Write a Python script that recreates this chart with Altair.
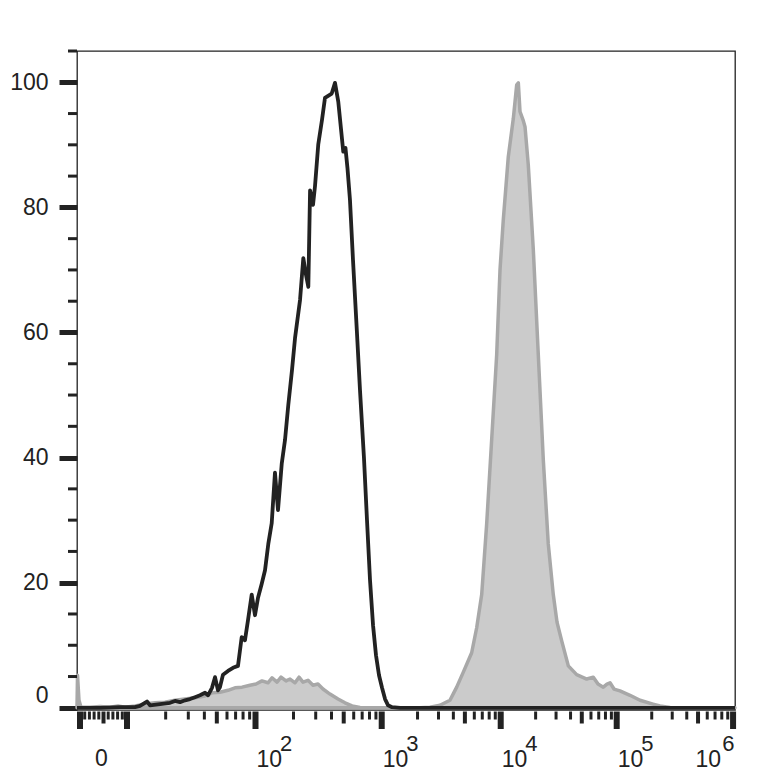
import math
import altair as alt
import pandas as pd

# ---------------- data (x in display channels 0-1024, y in % of max) ----------------
BLACK_CH = [0, 35.8, 66.9, 90.3, 98.0, 108.9, 113.6, 129.2, 144.8, 152.5, 160.3, 168.1,
            175.9, 183.6, 191.4, 199.2, 203.9, 210.1, 214.8, 219.4, 222.5, 227.2, 235.0,
            242.8, 250.5, 256.3, 261.4, 266.1, 271.9, 277.0, 281.7, 287.4, 292.6, 297.7,
            303.0, 308.1, 312.8, 318.6, 323.7, 328.8, 334.6, 339.3, 347.1, 352.2, 356.4,
            360.0, 362.7, 367.3, 370.4, 375.5, 381.3, 385.9, 396.4, 401.5, 406.6, 414.4,
            417.8, 420.9, 424.8, 429.5, 435.7, 440.4, 446.6, 451.3, 456.0, 460.7, 465.3,
            470.0, 474.7, 479.4, 484.1, 490.3, 502.8, 1024]
BLACK_PCT = [0, 0, 0.1, 0.1, 0.3, 1.0, 0.4, 0.6, 0.8, 1.1, 0.9, 1.2,
             1.4, 1.7, 2.0, 2.4, 2.0, 3.2, 4.9, 2.8, 3.3, 5.3, 5.9,
             6.4, 6.7, 11.3, 10.8, 14.0, 18.1, 14.8, 17.6, 19.8, 22.0, 26.2,
             29.5, 37.6, 31.6, 39.0, 42.8, 48.4, 54.0, 59.1, 65.2, 71.9, 69.2,
             67.3, 82.7, 80.4, 83.4, 90.1, 94.0, 97.5, 98.2, 99.9, 96.9, 88.9,
             89.5, 86.3, 81.2, 71.6, 59.9, 50.8, 39.9, 30.0, 20.4, 13.2, 8.4,
             5.2, 3.2, 1.4, 0.4, 0.1, 0, 0]

GREY_CH = [0, 0.8, 3.1, 6.2, 20.2, 35.8, 51.4, 63.8, 74.7, 90.3, 105.8, 121.4, 136.9,
           152.5, 168.1, 183.6, 199.2, 210.1, 222.5, 235.0, 245.9, 256.8, 269.2, 278.6,
           287.9, 297.2, 303.5, 311.3, 317.5, 325.3, 331.5, 339.3, 345.5, 351.7, 359.5,
           367.3, 375.0, 382.8, 393.7, 406.2, 417.1, 428.0, 440.4, 471.5, 533.8, 549.3,
           564.9, 580.4, 590.9, 601.2, 614.2, 622.0, 629.8, 637.6, 645.4, 653.1, 658.3,
           663.4, 671.2, 679.0, 684.3, 686.8, 689.4, 694.1, 697.2, 702.3, 710.1, 717.9,
           725.7, 733.4, 741.2, 747.0, 754.3, 764.6, 777.6, 793.2, 803.5, 810.8, 819.0,
           824.8, 829.5, 835.7, 845.0, 860.6, 876.2, 896.4, 907.3, 922.9, 938.5, 1024]
GREY_PCT = [0, 5.2, 1.2, 0.1, 0.1, 0.2, 0.1, 0.3, 0.1, 0.3, 0.6, 0.8, 0.9,
            1.2, 1.4, 1.6, 1.9, 2.4, 2.5, 2.8, 3.2, 3.3, 3.6, 3.8,
            4.3, 4.0, 4.8, 4.1, 4.9, 4.3, 4.6, 4.0, 4.9, 4.1, 4.4,
            3.6, 3.8, 3.0, 2.2, 1.4, 0.8, 0.3, 0.05, 0, 0, 0.1,
            0.4, 1.2, 3.3, 5.7, 8.8, 12.8, 18.1, 29.5, 43.0, 56.4, 70.0,
            78.0, 88.1, 94.2, 99.6, 99.9, 95.3, 94.0, 92.9, 86.8, 73.3, 56.4,
            39.6, 26.2, 18.1, 13.7, 10.7, 6.7, 5.3, 4.6, 4.9, 3.8, 3.3,
            3.8, 4.0, 3.0, 2.7, 2.0, 1.2, 0.6, 0.3, 0.05, 0, 0]

# axis calibration (display channel of 0 and of the decades 10^1 .. 10^6)
ZERO_CH = 4.7
DECADE_CH = [77.8, 277.8, 474.2, 659.4, 839.9, 1021.0]

X_MAJOR = [0, 10, 100, 1e3, 1e4, 1e5, 1e6]
X_MEDIUM = [5, 50, 500, 5e3, 5e4, 5e5]
X_MINOR = [1, 2, 3, 4, 6, 7, 8, 9] + [m * 10 ** k for k in range(1, 6) for m in (2, 3, 4, 6, 7, 8, 9)]
X_EXPONENTS = ["2", "3", "4", "5", "6"]

Y_LABELS = [0, 20, 40, 60, 80, 100]
Y_MINOR = [5, 10, 15, 25, 30, 35, 45, 50, 55, 65, 70, 75, 85, 90, 95, 105]


def to_ch(v):
    if v <= 10:
        return ZERO_CH + v * (DECADE_CH[0] - ZERO_CH) / 10.0
    e = math.log10(v)
    i = min(int(math.floor(e)), 5)
    frac = e - i
    return DECADE_CH[i - 1] + frac * (DECADE_CH[i] - DECADE_CH[i - 1])


W, H = 658, 659
INK = "#222222"
FONT = "Liberation Sans"

xs = alt.Scale(domain=[0, 1024], nice=False, zero=False)
ys = alt.Scale(domain=[-0.35, 105], nice=False, zero=False)
YAX = alt.Axis(values=Y_LABELS, tickSize=18, tickWidth=5, tickColor=INK, domain=False,
               grid=False, labelFont=FONT, labelFontSize=23, labelColor=INK,
               labelPadding=11, labelFlush=5, title=None)

grey_df = pd.DataFrame({"ch": GREY_CH, "pct": GREY_PCT})
black_df = pd.DataFrame({"ch": BLACK_CH, "pct": BLACK_PCT, "i": list(range(len(BLACK_CH)))})

grey = alt.Chart(grey_df).mark_area(
    color="#cbcbcb", fillOpacity=1, stroke="#a8a8a8", strokeWidth=3.5,
    strokeJoin="round", interpolate="linear"
).encode(
    x=alt.X("ch:Q", scale=xs, axis=None),
    y=alt.Y("pct:Q", scale=ys, axis=YAX),
)

black = alt.Chart(black_df).mark_line(
    color=INK, strokeWidth=3.8, strokeJoin="round", interpolate="linear"
).encode(
    x=alt.X("ch:Q", scale=xs, axis=None),
    y=alt.Y("pct:Q", scale=ys, axis=YAX),
    order=alt.Order("i:Q"),
)

ymin = alt.Chart(pd.DataFrame({"pct": Y_MINOR})).mark_rule(color=INK, strokeWidth=3).encode(
    y=alt.Y("pct:Q", scale=ys, axis=YAX), x=alt.value(-9), x2=alt.value(0)
)


def xticks(vals, length, width):
    df = pd.DataFrame({"ch": [to_ch(v) for v in vals]})
    return alt.Chart(df).mark_rule(color=INK, strokeWidth=width).encode(
        x=alt.X("ch:Q", scale=xs, axis=None),
        y=alt.value(H + 1.5), y2=alt.value(H + 1.5 + length),
    )


t_major = xticks(X_MAJOR, 17.5, 6)
t_medium = xticks(X_MEDIUM, 12, 4)
t_minor = xticks(X_MINOR, 8, 3)

lab_df = pd.DataFrame({"ch": [to_ch(10 ** int(e)) for e in X_EXPONENTS[:-1]],
                       "base": ["10"] * (len(X_EXPONENTS) - 1), "exp": X_EXPONENTS[:-1]})
last_df = pd.DataFrame({"ch": [to_ch(10 ** int(X_EXPONENTS[-1]))], "base": ["10"],
                        "exp": [X_EXPONENTS[-1]]})
zero_df = pd.DataFrame({"ch": [to_ch(5)], "t": ["0"]})

txt = dict(font=FONT, color=INK, baseline="alphabetic")
base_l = alt.Chart(lab_df).mark_text(align="left", dx=1.0, fontSize=23, **txt).encode(
    x=alt.X("ch:Q", scale=xs, axis=None), y=alt.value(H + 57), text="base:N")
exp_l = alt.Chart(lab_df).mark_text(align="left", dx=24.5, fontSize=22, **txt).encode(
    x=alt.X("ch:Q", scale=xs, axis=None), y=alt.value(H + 41), text="exp:N")
base_r = alt.Chart(last_df).mark_text(align="right", dx=-12, fontSize=23, **txt).encode(
    x=alt.X("ch:Q", scale=xs, axis=None), y=alt.value(H + 57), text="base:N")
exp_r = alt.Chart(last_df).mark_text(align="right", dx=1.5, fontSize=22, **txt).encode(
    x=alt.X("ch:Q", scale=xs, axis=None), y=alt.value(H + 41), text="exp:N")
zero_l = alt.Chart(zero_df).mark_text(align="center", dx=-2, fontSize=23, **txt).encode(
    x=alt.X("ch:Q", scale=xs, axis=None), y=alt.value(H + 56), text="t:N")

chart = alt.layer(
    grey, black, ymin, t_minor, t_medium, t_major, base_l, exp_l, base_r, exp_r, zero_l
).properties(
    width=W, height=H,
    autosize=alt.AutoSizeParams(type="none"),
    padding={"left": 69, "top": 43, "right": 30, "bottom": 62},
    background="white",
).configure_view(stroke=INK, strokeWidth=1.3)

chart.save("out.html", embed_options={"renderer": "svg", "actions": False})
